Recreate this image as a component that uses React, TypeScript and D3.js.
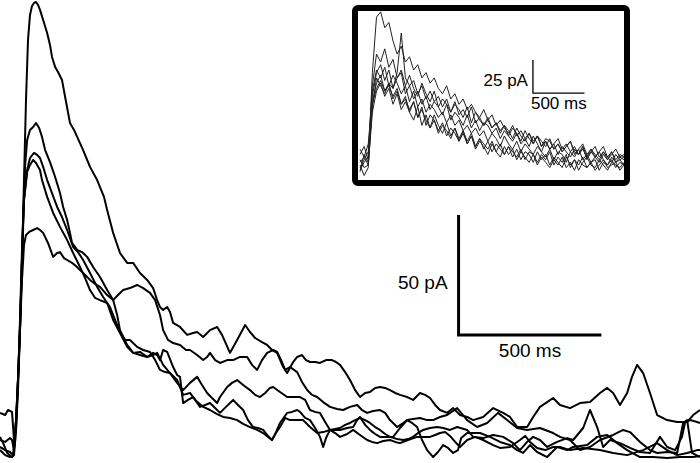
import React, { useEffect, useRef } from "react";
import * as d3 from "d3";

// main recordings: [time ms, current pA] (inward current plotted upward)
const traceA: [number, number][] = [
  [0, -2.9], [18, -4.2], [35, -5], [46, -6.3], [56, 8.3], [63, 25], [70, 45.8], [77, 75], [84, 108.3],
  [91, 141.7], [98, 166.7], [105, 177.1], [112, 180.8], [119, 182.1], [126, 182.5], [133, 181.3],
  [140, 179.2], [151, 175], [165, 169.6], [175, 164.6], [182, 159.6], [193, 155.4], [203, 153.3],
  [217, 150], [228, 142.9], [245, 132.1], [259, 129.2], [270, 126.3], [291, 120.8], [315, 113.8],
  [340, 108.3], [350, 105.4], [364, 101.3], [375, 95.8], [396, 86.3], [420, 77.9], [445, 73.8],
  [466, 73.8], [490, 69.6], [515, 66.7], [536, 63.3], [550, 58.3], [560, 55.4], [571, 54.2],
  [585, 55.4], [595, 53.3], [606, 48.8], [630, 47.1], [655, 43.8], [676, 44.6], [690, 45],
  [711, 42.9], [735, 45.8], [760, 47.1], [777, 43.8], [805, 36.3], [830, 41.7], [858, 47.9],
  [875, 45], [893, 42.5], [917, 40.8], [935, 39.6], [952, 37.5], [970, 36.3], [991, 30.4],
  [1005, 27.9], [1026, 32.5], [1040, 34.6], [1057, 35.4], [1071, 33.3], [1085, 32.5], [1103, 32.5],
  [1120, 32.1], [1141, 33.3], [1162, 33.3], [1176, 32.5], [1190, 31.3], [1208, 28.3], [1225, 25],
  [1243, 20.8], [1260, 17.9], [1278, 19.6], [1295, 20], [1313, 21.7], [1330, 22.1], [1348, 21.7],
  [1365, 20.8], [1383, 19.6], [1400, 18.8], [1425, 17.9], [1446, 16.7], [1470, 19.6], [1488, 18.8],
  [1505, 17.5], [1523, 14.6], [1540, 12.5], [1565, 11.3], [1586, 13.3], [1610, 10.4], [1635, 9.6],
  [1656, 8.3], [1691, 9.6], [1726, 13.3], [1761, 11.3], [1785, 9.6], [1810, 5.4], [1845, 5.4],
  [1866, 9.6], [1890, 13.8], [1915, 15.8], [1936, 17.5], [1960, 14.6], [1995, 13.3], [2030, 15.4],
  [2065, 15.8], [2100, 19.6], [2125, 21.7], [2146, 19.6], [2170, 14.6], [2195, 19.6], [2212, 26.3],
  [2230, 31.3], [2251, 27.9], [2275, 19.6], [2300, 10.4], [2335, 8.3], [2370, 7.5], [2405, 7.5],
  [2426, 10.4], [2450, 12.5],
];

const traceB: [number, number][] = [
  [0, -4.2], [18, -6.3], [35, -7.1], [46, -6.7], [53, 0], [60, 16.7], [67, 37.5], [74, 62.5], [81, 91.7],
  [88, 114.6], [95, 125], [105, 129.2], [116, 130.4], [126, 132.1], [137, 130], [147, 126.3],
  [158, 120.8], [175, 115.8], [193, 109.6], [210, 102.9], [221, 97.1], [235, 91.7], [245, 86.3],
  [252, 82.1], [270, 79.2], [287, 78.3], [305, 76.3], [326, 72.1], [350, 67.9], [375, 62.5],
  [396, 58.3], [410, 52.1], [420, 45.8], [445, 39.6], [466, 36.3], [490, 36.7], [515, 34.6],
  [536, 36.3], [550, 35.4], [560, 33.3], [571, 37.5], [585, 36.7], [606, 30.4], [620, 27.1],
  [630, 26.3], [641, 15.4], [658, 16.7], [676, 17.9], [700, 13.8], [718, 14.6], [735, 15.4],
  [753, 13.3], [770, 11.3], [791, 13.8], [816, 16.7], [833, 14.6], [851, 12.5], [868, 8.3],
  [886, 5.4], [903, 5], [921, 4.2], [938, 1.7], [952, 0], [966, 3.3], [980, 7.1], [1005, 11.3],
  [1022, 11.7], [1040, 12.5], [1050, 11.7], [1068, 9.2], [1085, 8.3], [1103, 5], [1120, 1.3],
  [1131, -2.9], [1141, 0.8], [1155, 4.2], [1173, 4.2], [1190, 4.2], [1215, 5], [1236, 5.4],
  [1250, 8.3], [1260, 9.6], [1278, 6.3], [1295, 4.2], [1313, 2.5], [1330, 1.3], [1355, 1.3],
  [1376, 1.3], [1400, 5], [1425, 8.3], [1442, 7.1], [1460, 5.4], [1477, 0], [1495, -4.2],
  [1516, -7.1], [1533, -5], [1551, -2.1], [1568, -3.3], [1586, -5.4], [1603, -4.2], [1614, 0.8],
  [1635, 2.9], [1680, 2.9], [1715, 1.3], [1750, -0.8], [1785, -2.1], [1810, -4.2], [1831, -5.4],
  [1855, -2.1], [1880, -5], [1915, -7.1], [1950, -2.9], [1985, -4.2], [2006, -2.9], [2055, -2.1],
  [2090, 1.3], [2125, 2.1], [2160, -1.3], [2195, -4.2], [2240, -7.1], [2286, -7.1], [2335, -7.5],
  [2380, -7.1], [2426, -7.1], [2450, -6.7],
];

const traceC: [number, number][] = [
  [0, 11.3], [18, 10.4], [28, 12.5], [42, 11.7], [49, 0], [56, 4.2], [63, 20.8], [70, 45.8], [77, 75],
  [84, 100], [95, 112.5], [105, 117.5], [119, 119.6], [130, 118.8], [140, 117.5], [151, 113.8],
  [165, 108.3], [182, 102.9], [200, 97.1], [217, 92.9], [235, 87.5], [256, 80.4], [273, 78.3],
  [291, 75], [315, 69.6], [340, 63.8], [361, 59.6], [385, 55.4], [403, 50], [420, 45], [438, 41.7],
  [455, 41.7], [480, 38.8], [501, 37.5], [525, 36.7], [543, 33.3], [560, 29.2], [578, 28.3],
  [595, 27.9], [620, 23.8], [641, 20.8], [665, 23.8], [690, 26.3], [707, 22.9], [725, 19.6],
  [742, 17.5], [760, 15.4], [770, 17.9], [795, 22.1], [812, 23.8], [830, 25], [851, 22.9],
  [875, 20.8], [893, 18.8], [910, 17.9], [928, 19.6], [945, 21.7], [956, 22.1], [980, 20],
  [1005, 17.9], [1026, 17.9], [1050, 17.9], [1068, 16.7], [1085, 12.5], [1103, 11.7], [1120, 11.3],
  [1138, 7.5], [1155, 4.2], [1173, 4.6], [1190, 5], [1208, 6.3], [1225, 7.1], [1243, 8.3],
  [1260, 9.2], [1278, 8.3], [1295, 7.1], [1313, 5.4], [1330, 4.2], [1348, 2.5], [1365, 1.3],
  [1390, 0.4], [1411, 0], [1428, 0.4], [1446, 1.3], [1463, 2.9], [1481, 4.2], [1505, 5],
  [1530, 5.4], [1551, 5], [1575, 4.2], [1600, 5.4], [1635, 4.2], [1656, 1.3], [1691, 0.8],
  [1726, 2.1], [1761, 1.3], [1796, -1.3], [1820, -4.2], [1845, -0.8], [1866, 1.3], [1890, 0],
  [1915, -2.9], [1950, -0.8], [1985, 0.8], [2006, 0], [2041, 5], [2065, 12.5], [2090, 5.4],
  [2111, -2.9], [2135, 0], [2170, -1.3], [2205, -3.3], [2240, -5], [2275, -5.4], [2310, 1.3],
  [2335, -2.9], [2363, -4.2], [2387, 1.3], [2398, 7.5], [2415, 8.3], [2440, 7.5], [2450, 7.1],
];

const traceD: [number, number][] = [
  [0, 1.3], [11, -1.3], [25, -5.4], [42, -7.1], [49, -6.3], [56, 4.2], [63, 25], [70, 50], [77, 79.2],
  [84, 100], [95, 111.7], [105, 114.6], [116, 116.7], [126, 115.4], [140, 112.5], [147, 108.3],
  [165, 101.3], [186, 94.6], [210, 88.8], [235, 83.3], [256, 77.9], [280, 72.1], [298, 67.5],
  [315, 62.5], [333, 59.2], [350, 58.3], [375, 57.1], [396, 50], [420, 44.6], [445, 38.8],
  [466, 36.3], [490, 35.4], [515, 34.6], [536, 35.4], [550, 36.3], [571, 31.3], [595, 27.9],
  [620, 25], [641, 18.8], [665, 19.6], [683, 16.7], [711, 13.8], [735, 12.5], [760, 10.8],
  [781, 9.6], [805, 9.2], [830, 8.3], [851, 6.7], [875, 5.4], [900, 4.2], [921, 2.9], [938, 1.3],
  [952, 0], [966, 2.9], [980, 5.4], [998, 9.2], [1015, 8.3], [1036, 8.3], [1061, 8.3], [1085, 5.4],
  [1110, 2.9], [1131, 3.3], [1155, 4.2], [1173, 2.9], [1190, 1.3], [1215, 2.5], [1236, 4.2],
  [1260, 2.1], [1285, 0], [1302, -0.8], [1320, -1.3], [1341, -0.4], [1365, 0], [1383, -0.8],
  [1400, -1.3], [1428, 0], [1460, 1.3], [1481, 1.3], [1505, 1.3], [1523, 2.1], [1540, 2.9],
  [1558, 3.3], [1575, 1.7], [1593, -0.8], [1610, -2.9], [1635, 0], [1663, 1.3], [1691, 0],
  [1726, -2.1], [1750, -3.3], [1785, -2.9], [1820, 0], [1838, 1.7], [1855, -0.8], [1880, -3.3],
  [1908, -4.2], [1936, -2.9], [1960, -2.9], [1995, -4.2], [2041, -3.3], [2100, -4.2], [2146, -5.4],
  [2195, -6.3], [2251, -4.2], [2300, -1.3], [2335, -4.2], [2370, -6.3], [2405, -5.4], [2440, -4.2],
  [2450, -4.2],
];

const traceE: [number, number][] = [
  [0, 0], [18, -0.8], [35, 0.8], [42, 0], [49, -4.2], [56, 8.3], [63, 25], [70, 45.8], [77, 66.7],
  [84, 81.3], [91, 85.4], [102, 86.7], [116, 87.5], [130, 88.3], [140, 87.5], [151, 86.3],
  [168, 82.1], [186, 76.3], [200, 77.9], [210, 78.3], [224, 75.8], [235, 75], [252, 73.8],
  [266, 72.5], [280, 70.8], [298, 68.8], [315, 66.7], [333, 65], [350, 63.8], [375, 60.4],
  [396, 58.3], [413, 60.4], [431, 62.5], [455, 63.3], [480, 64.6], [501, 63.3], [525, 61.3],
  [543, 58.3], [560, 52.1], [571, 45.8], [588, 41.7], [606, 40.4], [630, 39.6], [651, 37.5],
  [665, 37.5], [690, 35.4], [711, 33.3], [725, 34.6], [735, 36.3], [753, 33.3], [770, 32.1],
  [795, 33.3], [816, 33.3], [840, 34.6], [865, 34.6], [882, 31.3], [900, 29.2], [917, 33.3],
  [935, 36.3], [956, 37.5], [970, 36.7], [984, 33.3], [998, 29.2], [1015, 30.4], [1040, 28.3],
  [1057, 24.2], [1075, 20.8], [1092, 18.8], [1110, 17.9], [1131, 15.8], [1155, 13.8], [1180, 12.9],
  [1201, 12.5], [1225, 13.8], [1250, 14.6], [1267, 12.5], [1285, 11.3], [1306, 12.1], [1330, 12.5],
  [1348, 11.3], [1365, 8.3], [1390, 5.4], [1407, 6.7], [1425, 8.3], [1446, 8.8], [1470, 9.2],
  [1495, 8.3], [1516, 8.3], [1540, 9.6], [1565, 10.4], [1600, 13.3], [1635, 8.3], [1670, 5.4],
  [1705, 7.1], [1743, 11.3], [1775, 8.3], [1810, 5], [1845, 4.2], [1890, 5], [1936, 2.9],
  [1960, 1.3], [1995, 0], [2030, -4.2], [2065, -2.9], [2100, 0], [2146, 2.1], [2181, 4.2],
  [2205, 3.3], [2240, -0.8], [2275, -4.2], [2300, -5.4], [2335, -5], [2370, -5.4], [2391, 7.1],
  [2405, 8.3], [2422, -5.4], [2450, -7.1],
];

const mainTraces = [traceA, traceB, traceC, traceD, traceE];

// inset recordings, sampled every 40 ms (pA)
const insetTimes = d3.range(0, 2561, 40);
const insetT1 = [-5, 8, 2, 70, 112, 116, 104, 108, 94, 84, 90, 78, 82, 72, 76, 66, 70, 62, 66, 58, 54, 60, 50, 54, 46, 50, 42, 46, 40, 36, 42, 34, 38, 30, 34, 28, 24, 30, 22, 26, 20, 24, 18, 22, 14, 18, 12, 16, 20, 12, 16, 10, 14, 8, 12, 6, 10, 14, 6, 10, 4, 8, 12, 6, 8];
const insetT2 = [-2, 4, 10, 60, 84, 78, 88, 74, 80, 66, 72, 60, 68, 58, 52, 62, 54, 48, 56, 44, 50, 46, 40, 48, 38, 42, 36, 44, 32, 36, 30, 34, 28, 32, 24, 30, 26, 20, 28, 22, 18, 24, 16, 22, 14, 20, 18, 12, 16, 10, 14, 18, 10, 8, 14, 6, 12, 8, 4, 10, 6, 2, 8, 4, 6];
const insetT3 = [12, 6, 16, 52, 70, 76, 64, 72, 58, 66, 70, 54, 60, 50, 56, 46, 52, 42, 48, 44, 38, 46, 34, 40, 36, 30, 38, 28, 34, 26, 32, 30, 24, 28, 20, 26, 22, 18, 24, 16, 20, 14, 22, 16, 10, 18, 12, 16, 8, 14, 10, 6, 12, 8, 14, 4, 10, 6, 2, 8, 4, 10, 2, 6, 4];
const insetT4 = [0, -8, -2, 48, 62, 68, 56, 60, 52, 58, 46, 50, 42, 48, 36, 44, 30, 38, 34, 26, 32, 22, 28, 24, 18, 26, 16, 22, 14, 20, 12, 18, 10, 16, 12, 8, 14, 6, 12, 4, 10, 8, 2, 10, 4, 8, 0, 6, 2, -2, 6, 0, 4, -4, 2, 6, 0, -2, 4, 0, -4, 2, 0, -2, 2];
const insetT5 = [8, 14, 4, 56, 72, 66, 74, 60, 68, 62, 54, 60, 48, 56, 44, 50, 40, 46, 42, 36, 40, 32, 38, 30, 34, 26, 30, 24, 28, 22, 26, 18, 24, 20, 14, 22, 16, 12, 18, 10, 16, 12, 8, 14, 10, 6, 12, 4, 10, 8, 2, 10, 6, 12, 4, 8, 2, 6, 10, 4, 0, 6, 2, 4, 0];
const insetT6 = [-4, 2, 6, 44, 66, 60, 54, 62, 50, 56, 46, 52, 40, 48, 36, 42, 34, 28, 38, 30, 24, 32, 22, 28, 20, 26, 18, 24, 14, 20, 16, 12, 18, 10, 16, 8, 14, 10, 6, 12, 4, 10, 8, 2, 8, 4, 10, 0, 6, 2, 8, -2, 4, 0, 6, -2, 2, 4, -4, 2, 0, 4, -2, 2, 0];
const insetT7 = [4, -2, 0, 40, 56, 62, 52, 58, 46, 54, 42, 48, 40, 34, 44, 30, 38, 28, 34, 24, 30, 26, 20, 28, 18, 24, 16, 22, 12, 18, 14, 8, 16, 10, 6, 14, 8, 12, 4, 10, 6, 2, 8, 0, 6, 2, -2, 4, 0, 6, -2, 2, -4, 4, 0, -2, 2, -4, 0, 4, -2, 0, 2, -4, 0];
const insetT8 = [2, 6, 0, 46, 58, 64, 56, 62, 58, 70, 100, 66, 60, 64, 54, 60, 50, 56, 48, 52, 44, 50, 40, 46, 42, 36, 44, 32, 40, 34, 30, 36, 28, 32, 26, 30, 22, 28, 24, 18, 26, 20, 16, 22, 18, 14, 20, 12, 16, 10, 14, 18, 8, 12, 16, 8, 12, 6, 10, 14, 6, 10, 4, 8, 6];
const insetTraces = [insetT1, insetT2, insetT3, insetT4, insetT5, insetT6, insetT7, insetT8];

// scale bars: corner [time ms, current pA] and bar sizes
const mainBar = { t: 1605, pA: 43.75, dt: 500, dI: 50 };
const insetBar = { t: 1677, pA: 54.5, dt: 500, dI: 25 };

const App = () => {
  const ref = useRef<SVGSVGElement>(null);

  useEffect(() => {
    const width = 700;
    const height = 463;
    const font = "'Liberation Sans', Arial, sans-serif";

    const svg = d3.select(ref.current);
    svg.selectAll("*").remove();

    const x = d3.scaleLinear().domain([0, 2450]).range([0, width]);
    const y = d3.scaleLinear().domain([-9.58, 183.33]).range([height, 0]);

    const line = d3
      .line<[number, number]>()
      .x((d) => x(d[0]))
      .y((d) => y(d[1]));

    // main traces
    svg
      .append("g")
      .attr("fill", "none")
      .attr("stroke", "#000")
      .attr("stroke-width", 2)
      .attr("stroke-linejoin", "round")
      .selectAll("path")
      .data(mainTraces)
      .join("path")
      .attr("d", (d) => line(d));

    // main scale bar
    const bar = svg.append("g");
    bar
      .append("path")
      .attr("fill", "none")
      .attr("stroke", "#000")
      .attr("stroke-width", 3)
      .attr(
        "d",
        `M${x(mainBar.t)},${y(mainBar.pA + mainBar.dI)}V${y(mainBar.pA)}H${x(mainBar.t + mainBar.dt)}`
      );
    bar
      .append("text")
      .attr("x", x(mainBar.t) - 11)
      .attr("y", y(mainBar.pA) - 46)
      .attr("text-anchor", "end")
      .attr("font-family", font)
      .attr("font-size", 19)
      .text("50 pA");
    bar
      .append("text")
      .attr("x", x(mainBar.t + mainBar.dt / 2))
      .attr("y", y(mainBar.pA) + 22)
      .attr("text-anchor", "middle")
      .attr("font-family", font)
      .attr("font-size", 19)
      .text("500 ms");

    // inset
    const ix = d3.scaleLinear().domain([0, 2560]).range([360, 624]);
    const iy = d3.scaleLinear().domain([-10, 120]).range([178.2, 6.6]);
    const insetLine = d3
      .line<number>()
      .x((_, i) => ix(insetTimes[i]))
      .y((d) => iy(d));

    const inset = svg.append("g");
    inset
      .append("rect")
      .attr("x", 355)
      .attr("y", 8)
      .attr("width", 272)
      .attr("height", 175)
      .attr("rx", 3)
      .attr("fill", "#fff")
      .attr("stroke", "#000")
      .attr("stroke-width", 6);

    svg
      .append("clipPath")
      .attr("id", "inset-clip")
      .append("rect")
      .attr("x", 358)
      .attr("y", 11)
      .attr("width", 266)
      .attr("height", 169);

    inset
      .append("g")
      .attr("clip-path", "url(#inset-clip)")
      .attr("fill", "none")
      .attr("stroke", "#222")
      .attr("stroke-width", 1)
      .attr("stroke-linejoin", "round")
      .selectAll("path")
      .data(insetTraces)
      .join("path")
      .attr("d", (d) => insetLine(d));

    inset
      .append("path")
      .attr("fill", "none")
      .attr("stroke", "#000")
      .attr("stroke-width", 1.3)
      .attr(
        "d",
        `M${ix(insetBar.t)},${iy(insetBar.pA + insetBar.dI)}V${iy(insetBar.pA)}H${ix(insetBar.t + insetBar.dt)}`
      );
    inset
      .append("text")
      .attr("x", ix(insetBar.t) - 5)
      .attr("y", iy(insetBar.pA) - 7)
      .attr("text-anchor", "end")
      .attr("font-family", font)
      .attr("font-size", 17)
      .text("25 pA");
    inset
      .append("text")
      .attr("x", ix(insetBar.t) - 2)
      .attr("y", iy(insetBar.pA) + 16)
      .attr("font-family", font)
      .attr("font-size", 17)
      .text("500 ms");
  }, []);

  return (
    <svg
      ref={ref}
      width={700}
      height={463}
      style={{ position: "absolute", left: 0, top: 0, background: "#fff" }}
    />
  );
};

export default App;
